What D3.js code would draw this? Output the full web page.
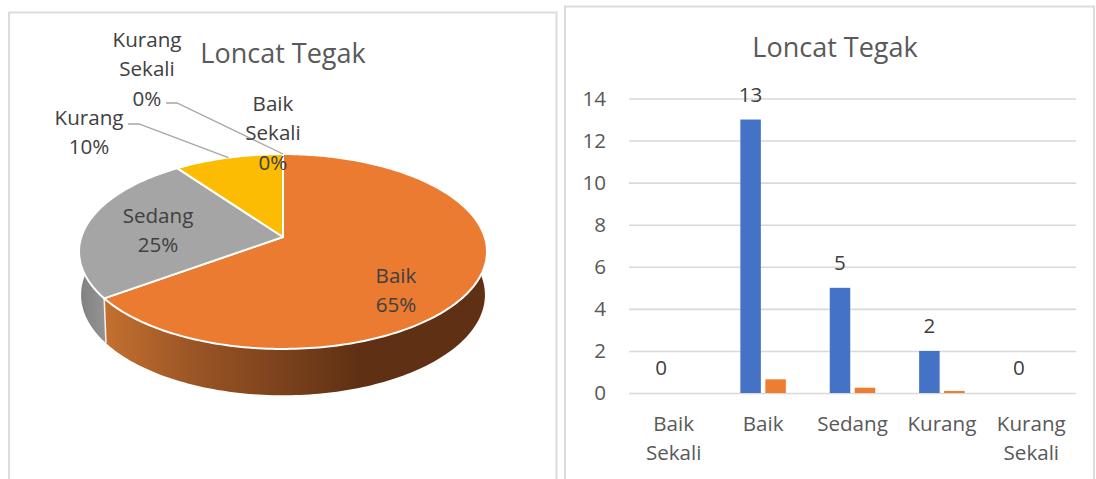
<!DOCTYPE html>
<html>
<head>
<meta charset="utf-8">
<script src="https://cdn.jsdelivr.net/npm/d3@7"></script>
<style>
  html, body { margin: 0; padding: 0; background: #fff; }
  svg { display: block; }
  text { font-family: "Open Sans", sans-serif; }
</style>
</head>
<body>
<svg id="chart" width="1096" height="479"></svg>
<script>
const titleText = "Loncat Tegak";
const categories = ["Baik Sekali", "Baik", "Sedang", "Kurang", "Kurang Sekali"];
const counts = [0, 13, 5, 2, 0];
const shares = [0, 0.65, 0.25, 0.10, 0];
const sliceColors = ["#4472c4", "#ea7b31", "#a5a5a5", "#fbbc03", "#5b9bd5"];
const yTicks = [0, 2, 4, 6, 8, 10, 12, 14];

const svg = d3.select("#chart");
const defs = svg.append("defs");

function multiline(sel, lines, x, y, step) {
  lines.forEach((l, i) => sel.append("tspan").attr("x", x).attr("y", y + i * step).text(l));
}

// Panel frames
const frameColor = "#dcdcdc";
svg.append("rect").attr("x", 9).attr("y", 12.5).attr("width", 547.5).attr("height", 500)
  .attr("fill", "#fff").attr("stroke", frameColor).attr("stroke-width", 2);
svg.append("rect").attr("x", 565).attr("y", 6.5).attr("width", 529).attr("height", 500)
  .attr("fill", "#fff").attr("stroke", frameColor).attr("stroke-width", 2);

/* ---------- 3D pie ---------- */
const pieG = svg.append("g");
const cx = 283, apexY = 237, radX = 201.7, radY = 95.3, tilt = 0.1487;
const wallDrop = 43, wallScaleX = 0.99, wallScaleY = 1.03;

// Perspective projection of a point on the unit circle of the pie plane
function project(angle, drop = 0, sx = 1, sy = 1) {
  const x = Math.sin(angle), y = -Math.cos(angle), w = 1 - tilt * y;
  return [cx + radX * sx * x / w, apexY + drop + radY * sy * y / w];
}
function arcPoints(a0, a1, drop = 0, sx = 1, sy = 1) {
  const n = Math.max(2, Math.ceil(Math.abs(a1 - a0) / 0.02));
  return d3.range(n + 1).map(i => project(a0 + (a1 - a0) * i / n, drop, sx, sy));
}
const linePath = d3.line();

const pieData = d3.pie().sort(null).value(d => d)(shares);

function addGradient(id, x1, x2, stops) {
  const g = defs.append("linearGradient").attr("id", id).attr("gradientUnits", "userSpaceOnUse")
    .attr("x1", x1).attr("x2", x2).attr("y1", 0).attr("y2", 0);
  stops.forEach(([o, c]) => g.append("stop").attr("offset", o).attr("stop-color", c));
}
addGradient("wall1", 105, 360, [[0, "#c4702f"], [0.35, "#9a5525"], [1, "#5f3014"]]);
addGradient("wall2", 78, 106, [[0, "#7f7f7f"], [1, "#949494"]]);
const wallFills = { 1: "url(#wall1)", 2: "url(#wall2)", 3: "#997300" };

// Rim of each slice, drawn first so the top surface covers its back part
pieData.forEach((d, i) => {
  if (d.endAngle - d.startAngle <= 0) return;
  const pts = arcPoints(d.startAngle, d.endAngle)
    .concat(arcPoints(d.endAngle, d.startAngle, wallDrop, wallScaleX, wallScaleY));
  pieG.append("path").attr("d", linePath(pts) + "Z")
    .attr("fill", wallFills[i]).attr("stroke", "none");
});
// Seam between the two visible rim segments
const seam = pieData[1].endAngle;
const seamTop = project(seam), seamBottom = project(seam, wallDrop, wallScaleX, wallScaleY);
pieG.append("line")
  .attr("x1", seamTop[0]).attr("y1", seamTop[1])
  .attr("x2", seamBottom[0]).attr("y2", seamBottom[1])
  .attr("stroke", "#f2f2f2").attr("stroke-width", 1.5);

// Top surface
pieData.forEach((d, i) => {
  if (d.endAngle - d.startAngle <= 0) return;
  const pts = [[cx, apexY]].concat(arcPoints(d.startAngle, d.endAngle));
  pieG.append("path").attr("d", linePath(pts) + "Z")
    .attr("fill", sliceColors[i]).attr("stroke", "#fff").attr("stroke-width", 2).attr("stroke-linejoin", "round");
});

// Leader lines
const leaderColor = "#a6a6a6";
[[[128, 124], [139, 124], project(pieData[3].startAngle + (pieData[3].endAngle - pieData[3].startAngle) * 0.5)],
 [[166, 103], [177, 103], project(pieData[4].startAngle)]].forEach(pts => {
  pieG.append("path").attr("d", linePath(pts)).attr("fill", "none")
    .attr("stroke", leaderColor).attr("stroke-width", 1.3);
});

// Slice labels
const labelLayout = [
  { x: 273, y: 111, lines: ["Baik", "Sekali"] },
  { x: 396, y: 283, lines: ["Baik"] },
  { x: 158, y: 223, lines: ["Sedang"] },
  { x: 89, y: 125, lines: ["Kurang"] },
  { x: 147, y: 47, lines: ["Kurang", "Sekali"] }
];
categories.forEach((c, i) => {
  const lay = labelLayout[i];
  const lines = lay.lines.concat(d3.format(".0%")(shares[i]));
  pieG.append("text").attr("text-anchor", "middle").attr("font-size", 20.6).attr("fill", "#404040")
    .call(multiline, lines, lay.x, lay.y, 29.3);
});

svg.append("text").attr("x", 283).attr("y", 63).attr("text-anchor", "middle")
  .attr("font-size", 27).attr("fill", "#595959").text(titleText);

/* ---------- Column chart ---------- */
const x = d3.scaleBand().domain(categories).range([629, 1076]);
const y = d3.scaleLinear().domain([0, 14]).range([393, 98.5]);
const barW = 20.5, barGap = 4.5;

const yAxis = svg.append("g").attr("transform", "translate(629,0)")
  .call(d3.axisLeft(y).tickValues(yTicks).tickSize(-447).tickPadding(23).tickFormat(d3.format("d")));
yAxis.select(".domain").remove();
yAxis.selectAll("line").attr("stroke", "#d9d9d9").attr("stroke-width", 1.6);
yAxis.selectAll("text").attr("font-size", 20.6).attr("fill", "#595959").attr("font-family", "Open Sans");

const blueX = c => x(c) + x.bandwidth() / 2 - barGap / 2 - barW;
const orangeX = c => x(c) + x.bandwidth() / 2 + barGap / 2;

svg.append("g").selectAll("rect").data(categories).join("rect")
  .attr("x", blueX).attr("width", barW)
  .attr("y", (c, i) => y(counts[i])).attr("height", (c, i) => y(0) - y(counts[i]))
  .attr("fill", "#4472c4");
svg.append("g").selectAll("rect").data(categories).join("rect")
  .attr("x", orangeX).attr("width", barW)
  .attr("y", (c, i) => y(shares[i])).attr("height", (c, i) => y(0) - y(shares[i]))
  .attr("fill", "#ed7d31");

svg.append("g").selectAll("text").data(categories).join("text")
  .attr("x", c => blueX(c) + barW / 2)
  .attr("y", (c, i) => y(counts[i]) - 18)
  .attr("text-anchor", "middle").attr("font-size", 20.6).attr("fill", "#404040")
  .text((c, i) => counts[i]);

const tickLines = [["Baik", "Sekali"], ["Baik"], ["Sedang"], ["Kurang"], ["Kurang", "Sekali"]];
categories.forEach((c, i) => {
  svg.append("text").attr("text-anchor", "middle").attr("font-size", 20.6).attr("fill", "#595959")
    .call(multiline, tickLines[i], x(c) + x.bandwidth() / 2, 431, 29.3);
});

svg.append("text").attr("x", 835).attr("y", 57).attr("text-anchor", "middle")
  .attr("font-size", 27).attr("fill", "#595959").text(titleText);
</script>
</body>
</html>
